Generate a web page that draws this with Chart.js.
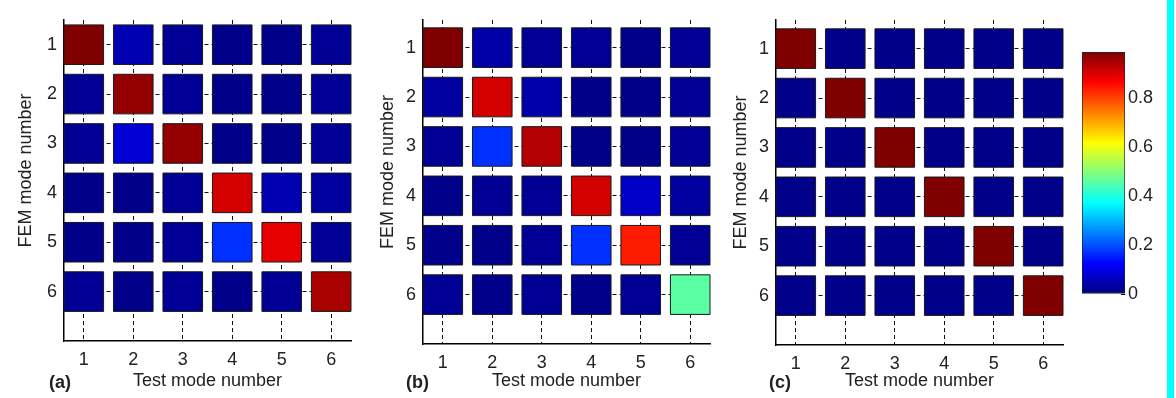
<!DOCTYPE html>
<html>
<head>
<meta charset="utf-8">
<title>MAC matrices</title>
<script src="https://cdn.jsdelivr.net/npm/chart.js@4.4.1/dist/chart.umd.min.js"></script>
<style>
  html, body { margin: 0; padding: 0; background: #fff; }
  #wrap { position: relative; width: 1176px; height: 398px; overflow: hidden; background: #fff; }
  #wrap canvas { position: absolute; top: 0; display: block; }
  #edge { position: absolute; left: 1167px; top: 0; width: 7px; height: 398px; background: #00ffff; }
</style>
</head>
<body>
<div id="wrap">
  <canvas id="macA" width="351" height="398" style="left:8px"></canvas>
  <canvas id="macB" width="351" height="398" style="left:367px"></canvas>
  <canvas id="macC" width="351" height="398" style="left:720px"></canvas>
  <canvas id="cbar" width="94" height="398" style="left:1072px"></canvas>
  <div id="edge"></div>
</div>
<script>
// mode numbers on both axes
const modeNumbers = [1, 2, 3, 4, 5, 6];

// MAC values, rows = FEM mode, columns = test mode
const macA = [
    [0.99, 0.05, 0.02, 0.01, 0.01, 0.02],
    [0.02, 0.97, 0.02, 0.01, 0.01, 0.02],
    [0.02, 0.08, 0.97, 0.01, 0.01, 0.02],
    [0.01, 0.01, 0.02, 0.91, 0.05, 0.03],
    [0.01, 0.01, 0.02, 0.17, 0.89, 0.02],
    [0.02, 0.01, 0.02, 0.01, 0.02, 0.95]
];
const macB = [
    [0.99, 0.04, 0.02, 0.02, 0.01, 0.02],
    [0.03, 0.91, 0.04, 0.01, 0.01, 0.02],
    [0.02, 0.17, 0.94, 0.01, 0.01, 0.02],
    [0.01, 0.02, 0.02, 0.91, 0.07, 0.03],
    [0.01, 0.01, 0.02, 0.17, 0.84, 0.02],
    [0.02, 0.01, 0.02, 0.01, 0.02, 0.46]
];
const macC = [
    [0.99, 0.01, 0.01, 0.01, 0.01, 0.01],
    [0.01, 0.99, 0.01, 0.01, 0.01, 0.01],
    [0.01, 0.01, 0.99, 0.01, 0.01, 0.01],
    [0.01, 0.01, 0.01, 0.99, 0.01, 0.01],
    [0.01, 0.01, 0.01, 0.01, 0.99, 0.01],
    [0.01, 0.01, 0.01, 0.01, 0.01, 0.99]
];

// colour scale
const colourRange = [0, 0.99];
const colourTicks = [0, 0.2, 0.4, 0.6, 0.8];

Chart.defaults.font.family = '"Liberation Sans", Arial, sans-serif';
Chart.defaults.font.size = 18;
Chart.defaults.color = '#222';

// matlab jet colormap
function jet(v) {
    const t = Math.min(Math.max((v - colourRange[0]) / (colourRange[1] - colourRange[0]), 0), 1);
    const ch = (c) => Math.round(255 * Math.min(Math.max(1.5 - Math.abs(4 * t - c), 0), 1));
    return 'rgb(' + ch(3) + ',' + ch(2) + ',' + ch(1) + ')';
}

function cells(mac) {
    const pts = [];
    mac.forEach((row, i) => row.forEach((v, j) => {
        pts.push({ x: modeNumbers[j], y: modeNumbers[i], v: v });
    }));
    return pts;
}

// "(a)" style tag under the axis
const panelTag = {
    id: 'panelTag',
    afterDraw(chart, args, opts) {
        const ctx = chart.ctx;
        ctx.save();
        ctx.font = 'bold 18px "Liberation Sans", Arial, sans-serif';
        ctx.fillStyle = '#222';
        ctx.textBaseline = 'alphabetic';
        ctx.fillText(opts.text, chart.chartArea.left + opts.dx, opts.y);
        ctx.restore();
    }
};

function matrixChart(id, mac, tag, yMin, plotBottom, tagDx, titlePad) {
    return new Chart(document.getElementById(id), {
        type: 'scatter',
        data: {
            datasets: [{
                data: cells(mac),
                pointStyle: 'rect',
                pointRadius: (ctx) => {
                    const x = ctx.chart.scales.x;
                    return Math.abs(x.getPixelForValue(0.8) - x.getPixelForValue(0)) / Math.SQRT2;
                },
                pointBackgroundColor: (ctx) => jet(ctx.raw ? ctx.raw.v : 0),
                pointBorderColor: '#1a1a1a',
                pointBorderWidth: 1,
                clip: false
            }]
        },
        plugins: [panelTag],
        options: {
            responsive: false,
            animation: false,
            events: [],
            layout: { padding: { top: 20, right: 8, left: 0, bottom: 0 } },
            plugins: {
                legend: { display: false },
                tooltip: { enabled: false },
                panelTag: { text: tag, dx: tagDx, y: 388 }
            },
            scales: {
                x: {
                    type: 'linear',
                    min: 0.6,
                    max: 6.4,
                    afterBuildTicks: (s) => { s.ticks = modeNumbers.map(v => ({ value: v })); },
                    afterFit: (s) => { s.height = 398 - plotBottom; },
                    ticks: { padding: 8, callback: (v) => String(v) },
                    grid: { color: '#111', lineWidth: 1, drawTicks: false },
                    border: { display: true, color: '#000', width: 1.5, dash: [4, 3] },
                    title: { display: true, text: 'Test mode number', padding: { top: 0, bottom: 6 } }
                },
                y: {
                    type: 'linear',
                    reverse: true,
                    min: yMin,
                    max: 7,
                    afterBuildTicks: (s) => { s.ticks = modeNumbers.map(v => ({ value: v })); },
                    afterFit: (s) => { s.width = 56; },
                    ticks: { padding: 7, callback: (v) => String(v) },
                    grid: { color: '#111', lineWidth: 1, drawTicks: false },
                    border: { display: true, color: '#000', width: 1.5, dash: [4, 3] },
                    // leading spaces lift the label a little above the axis centre
                    title: { display: true, text: '    FEM mode number', padding: { top: titlePad, bottom: 0 } }
                }
            }
        }
    });
}

matrixChart('macA', macA, '(a)', 0.5, 341, -15, 7);
matrixChart('macB', macB, '(b)', 0.44, 344, -17, 10);
matrixChart('macC', macC, '(c)', 0.42, 345, -7, 10);

// colour bar: one floating bar filled with the jet ramp
new Chart(document.getElementById('cbar'), {
    type: 'bar',
    data: {
        labels: [''],
        datasets: [{
            data: [colourRange],
            backgroundColor: (ctx) => {
                const area = ctx.chart.chartArea;
                if (!area || !Number.isFinite(area.top)) return '#000080';
                const g = ctx.chart.ctx.createLinearGradient(0, area.bottom, 0, area.top);
                for (let k = 0; k <= 64; k++) {
                    g.addColorStop(k / 64, jet(colourRange[0] + (colourRange[1] - colourRange[0]) * k / 64));
                }
                return g;
            },
            borderColor: '#222',
            borderWidth: 1,
            borderSkipped: false,
            barPercentage: 1,
            categoryPercentage: 1
        }]
    },
    options: {
        responsive: false,
        animation: false,
        events: [],
        layout: { padding: { top: 52, left: 10, right: 0, bottom: 104 } },
        plugins: { legend: { display: false }, tooltip: { enabled: false } },
        scales: {
            x: { display: false },
            y: {
                position: 'right',
                min: colourRange[0],
                max: colourRange[1],
                afterBuildTicks: (s) => { s.ticks = colourTicks.map(v => ({ value: v })); },
                afterFit: (s) => { s.width = 41; },
                ticks: { padding: 7, callback: (v) => String(v) },
                grid: { display: true, drawOnChartArea: false, drawTicks: true, tickLength: -4, color: '#000' },
                border: { display: false }
            }
        }
    }
});
</script>
</body>
</html>
